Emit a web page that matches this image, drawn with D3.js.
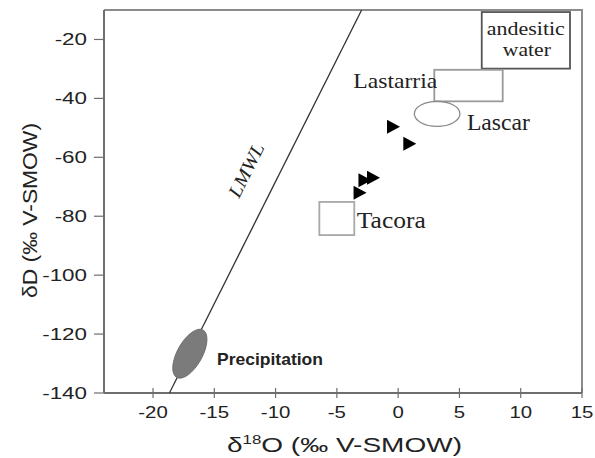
<!DOCTYPE html>
<html>
<head>
<meta charset="utf-8">
<script src="https://cdn.jsdelivr.net/npm/d3@7"></script>
<style>
  body { margin: 0; background: #fff; }
  svg { display: block; }
</style>
</head>
<body>
<svg id="chart" width="595" height="458"></svg>
<script>
// axis ticks
var xTicks = [-20, -15, -10, -5, 0, 5, 10, 15];
var yTicks = [-140, -120, -100, -80, -60, -40, -20];

// local meteoric water line (two ends, d18O / dD)
var lmwl = [[-18.66, -140], [-2.98, -10]];

// sample points (d18O, dD)
var samples = [[-0.42, -49.6], [0.91, -55.4], [-2.05, -66.95], [-2.75, -67.8], [-3.15, -72.0]];

// rectangular fields: d18O range, dD range
var fieldBoxes = [
  { name: "andesitic", o18: [6.82, 14.02], dD: [-29.9, -10.7] },
  { name: "Lastarria", o18: [2.95, 8.53], dD: [-41.0, -30.3] },
  { name: "Tacora", o18: [-6.43, -3.58], dD: [-86.4, -75.15] }
];

// Lascar ellipse extent
var lascar = { o18: [1.32, 5.04], dD: [-49.5, -41.0] };

// precipitation ellipse: ends of the long axis
var precip = [[-18.07, -134.7], [-15.92, -118.6]];

var svg = d3.select("#chart");
var x = d3.scaleLinear().domain([-24, 15]).range([104, 582]);
var y = d3.scaleLinear().domain([-140, -10]).range([393, 10]);

var axisCol = "#6e6e6e";
var sans = "Liberation Sans, Arial, sans-serif";
var serif = "Liberation Serif, Times New Roman, serif";

// frame top / right
svg.append("path")
  .attr("d", "M" + x(-24) + "," + y(-10) + "H" + x(15) + "V" + y(-140))
  .attr("fill", "none").attr("stroke", "#8c8c8c").attr("stroke-width", 2);

// x axis
var xg = svg.append("g").attr("transform", "translate(0," + y(-140) + ")");
xg.append("line").attr("x1", x(-24)).attr("x2", x(15))
  .attr("stroke", axisCol).attr("stroke-width", 2);
xTicks.forEach(function (t) {
  xg.append("line").attr("x1", x(t)).attr("x2", x(t)).attr("y1", -5).attr("y2", 5)
    .attr("stroke", axisCol).attr("stroke-width", 1.2);
  xg.append("text")
    .attr("transform", "translate(" + x(t) + ",25) scale(1.2,1)")
    .attr("text-anchor", "middle")
    .attr("font-family", sans)
    .attr("font-size", 17).attr("fill", "#222")
    .text(t);
});

// y axis
var yg = svg.append("g").attr("transform", "translate(" + x(-24) + ",0)");
yg.append("line").attr("y1", y(-140)).attr("y2", y(-10))
  .attr("stroke", axisCol).attr("stroke-width", 2);
yTicks.forEach(function (t) {
  yg.append("line").attr("x1", -10).attr("x2", 0).attr("y1", y(t)).attr("y2", y(t))
    .attr("stroke", axisCol).attr("stroke-width", 1.2);
  yg.append("text")
    .attr("transform", "translate(-17," + (y(t) + 6) + ") scale(1.4,1)")
    .attr("text-anchor", "end")
    .attr("font-family", sans)
    .attr("font-size", 16).attr("fill", "#222")
    .text(t);
});

// axis titles
var xt = svg.append("text")
  .attr("x", 344.5).attr("y", 452)
  .attr("text-anchor", "middle")
  .attr("font-family", sans)
  .attr("font-size", 20).attr("fill", "#222")
  .attr("textLength", 235).attr("lengthAdjust", "spacingAndGlyphs");
xt.append("tspan").text("δ");
xt.append("tspan").attr("font-size", 12).attr("dy", -8).text("18");
xt.append("tspan").attr("dy", 8).text("O (‰  V-SMOW)");

svg.append("text")
  .attr("transform", "translate(37,210.5) rotate(-90)")
  .attr("text-anchor", "middle")
  .attr("font-family", sans)
  .attr("font-size", 20).attr("fill", "#222")
  .attr("textLength", 175).attr("lengthAdjust", "spacingAndGlyphs")
  .text("δD (‰ V-SMOW)");

// LMWL
var line = d3.line().x(function (d) { return x(d[0]); }).y(function (d) { return y(d[1]); });
svg.append("path").datum(lmwl).attr("d", line)
  .attr("fill", "none").attr("stroke", "#333").attr("stroke-width", 1.3);

var ang = Math.atan2(y(lmwl[1][1]) - y(lmwl[0][1]), x(lmwl[1][0]) - x(lmwl[0][0])) * 180 / Math.PI;
svg.append("text")
  .attr("transform", "translate(239,199) rotate(" + ang + ")")
  .attr("font-family", serif)
  .attr("font-style", "italic")
  .attr("font-size", 19).attr("fill", "#222")
  .attr("textLength", 58).attr("lengthAdjust", "spacingAndGlyphs")
  .text("LMWL");

// precipitation ellipse
var p0 = [x(precip[0][0]), y(precip[0][1])], p1 = [x(precip[1][0]), y(precip[1][1])];
var pc = [(p0[0] + p1[0]) / 2, (p0[1] + p1[1]) / 2];
var pa = Math.hypot(p1[0] - p0[0], p1[1] - p0[1]) / 2;
var pAng = Math.atan2(p1[1] - p0[1], p1[0] - p0[0]) * 180 / Math.PI;
svg.append("ellipse")
  .attr("transform", "translate(" + pc[0] + "," + pc[1] + ") rotate(" + pAng + ")")
  .attr("rx", pa).attr("ry", 12.5)
  .attr("fill", "#7b7b7b").attr("stroke", "#6a6a6a").attr("stroke-width", 0.8);
svg.append("text")
  .attr("x", 217).attr("y", 365)
  .attr("font-family", sans)
  .attr("font-weight", "bold")
  .attr("font-size", 17).attr("fill", "#222")
  .attr("textLength", 106).attr("lengthAdjust", "spacingAndGlyphs")
  .text("Precipitation");

// field boxes
var boxStroke = { andesitic: "#555", Lastarria: "#9a9a9a", Tacora: "#a8a8a8" };
fieldBoxes.forEach(function (b) {
  svg.append("rect")
    .attr("x", x(b.o18[0])).attr("y", y(b.dD[1]))
    .attr("width", x(b.o18[1]) - x(b.o18[0]))
    .attr("height", y(b.dD[0]) - y(b.dD[1]))
    .attr("fill", "none").attr("stroke", boxStroke[b.name]).attr("stroke-width", 1.8);
});

var andes = fieldBoxes[0], last = fieldBoxes[1], tac = fieldBoxes[2];
var acx = (x(andes.o18[0]) + x(andes.o18[1])) / 2;
svg.append("text").attr("x", acx).attr("y", y(andes.dD[1]) + 23)
  .attr("text-anchor", "middle").attr("font-family", serif).attr("font-size", 18).attr("fill", "#222")
  .attr("textLength", 78).attr("lengthAdjust", "spacingAndGlyphs")
  .text("andesitic");
svg.append("text").attr("x", acx + 1).attr("y", y(andes.dD[1]) + 44)
  .attr("text-anchor", "middle").attr("font-family", serif).attr("font-size", 18).attr("fill", "#222")
  .attr("textLength", 48).attr("lengthAdjust", "spacingAndGlyphs")
  .text("water");

svg.append("text").attr("x", x(last.o18[0]) + 3).attr("y", y(last.dD[1]) + 18)
  .attr("text-anchor", "end").attr("font-family", serif).attr("font-size", 22).attr("fill", "#222")
  .attr("textLength", 84).attr("lengthAdjust", "spacingAndGlyphs")
  .text("Lastarria");

svg.append("text").attr("x", x(tac.o18[1]) + 2.5).attr("y", y(tac.dD[0]) - 7)
  .attr("font-family", serif).attr("font-size", 23).attr("fill", "#222")
  .attr("textLength", 69).attr("lengthAdjust", "spacingAndGlyphs")
  .text("Tacora");

// Lascar ellipse
svg.append("ellipse")
  .attr("cx", (x(lascar.o18[0]) + x(lascar.o18[1])) / 2)
  .attr("cy", (y(lascar.dD[0]) + y(lascar.dD[1])) / 2)
  .attr("rx", (x(lascar.o18[1]) - x(lascar.o18[0])) / 2)
  .attr("ry", (y(lascar.dD[0]) - y(lascar.dD[1])) / 2)
  .attr("fill", "none").attr("stroke", "#8a8a8a").attr("stroke-width", 1.3);
svg.append("text").attr("x", x(lascar.o18[1]) + 7).attr("y", y(lascar.dD[0]) + 4)
  .attr("font-family", serif).attr("font-size", 23).attr("fill", "#222")
  .attr("textLength", 63).attr("lengthAdjust", "spacingAndGlyphs")
  .text("Lascar");

// samples: right-pointing triangles
svg.selectAll(".pt").data(samples).enter().append("path")
  .attr("class", "pt")
  .attr("transform", function (d) { return "translate(" + x(d[0]) + "," + y(d[1]) + ")"; })
  .attr("d", "M-6,-7L7,0L-6,7Z")
  .attr("fill", "#000");
</script>
</body>
</html>
